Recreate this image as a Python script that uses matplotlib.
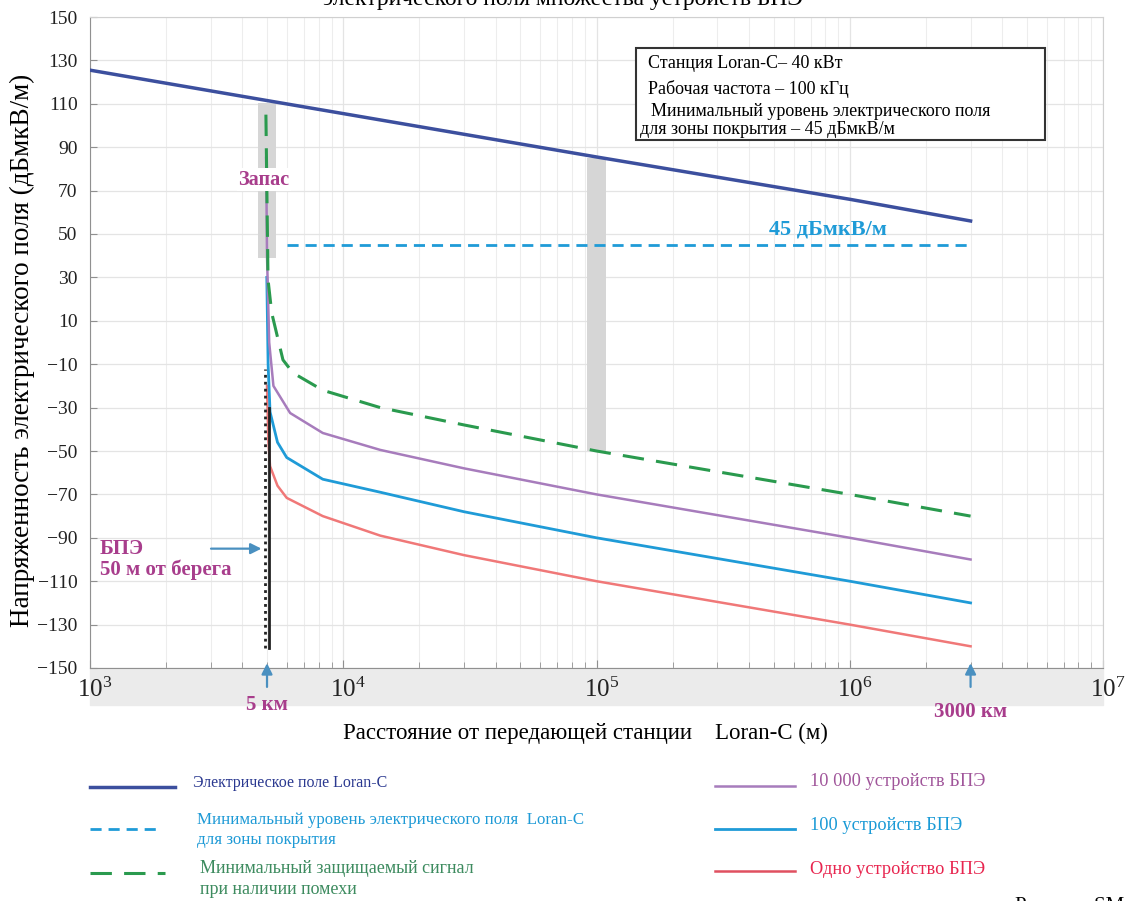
import matplotlib
matplotlib.use("Agg")
import matplotlib.pyplot as plt
from matplotlib.lines import Line2D
from matplotlib.patches import Rectangle
import matplotlib.transforms as mtransforms
import numpy as np

plt.rcParams['font.family'] = ['Liberation Serif', 'DejaVu Serif']
plt.rcParams['mathtext.fontset'] = 'stix'

# --- data (distance in m, field in dBuV/m) ---
loran_x = [1e3, 5e3, 1e5, 1e6, 3e6]
loran_y = [125.5, 111.5, 85.5, 66, 56]

min_x = [6000, 3e6]
min_y = [45, 45]

prot_x = [4950, 5000, 5046, 5219, 5780, 6330, 8300, 1.4e4, 3e4, 1e5, 1e6, 3e6]
prot_y = [105, 65, 29, 13.6, -8, -14, -22, -30, -38, -50, -70, -80]

dev10000_x = [4960, 5000, 5100, 5300, 6170, 8300, 1.4e4, 3e4, 1e5, 1e6, 3e6]
dev10000_y = [85, 40, 0, -20, -32.5, -41.7, -49.5, -58, -70, -90, -100]

dev100_x = [4990, 5050, 5140, 5500, 5980, 8300, 1.4e4, 3e4, 1e5, 1e6, 3e6]
dev100_y = [30, -10, -32, -46, -53, -63, -69, -78, -90, -110, -120]

dev1_x = [5000, 5060, 5140, 5500, 5980, 8300, 1.4e4, 3e4, 1e5, 1e6, 3e6]
dev1_y = [-20, -45, -57, -66, -71.6, -80, -89, -98, -110, -130, -140]

# margin bars (x range, y range)
margin_x = [(4600, 5420), (91700, 109000)]
margin_y = [(39, 110.5), (-50, 85)]

bpe_x = 5000
bpe_solid = (-141, -30)
bpe_dotted = (-141, -12)
bpe_arrow_y = -95

xlim = (1e3, 1e7)
ylim = (-150, 150)
yticks = list(range(-150, 151, 20))

W, H = 1126, 901
def fx(px):
    return px / W
def fy(py):
    return 1 - py / H

fig = plt.figure(figsize=(W / 100, H / 100), dpi=100)
ax = fig.add_axes([fx(90), fy(668), fx(1103) - fx(90), fy(17) - fy(668)])

ax.set_xscale('log')
ax.set_xlim(*xlim)
ax.set_ylim(*ylim)
ax.set_yticks(yticks)
ax.grid(True, which='major', color='#e4e4e4', lw=0.9)
ax.grid(True, which='minor', axis='x', color='#ededed', lw=0.8)
ax.set_axisbelow(True)

for s in ['top', 'right']:
    ax.spines[s].set_color('#d0d0d0')
for s in ['left', 'bottom']:
    ax.spines[s].set_color('#909090')
ax.tick_params(axis='y', direction='in', length=5, color='#909090', labelsize=14,
               pad=9, labelcolor='#222222')
ax.tick_params(axis='x', which='both', direction='in', color='#909090', labelsize=18,
               pad=7, labelcolor='#222222')
ax.tick_params(axis='x', which='minor', length=4)
ax.tick_params(axis='x', which='major', length=6)

# x tick labels sit a little to the right of their ticks in the original
shift = mtransforms.ScaledTranslation(5 / 100, 0, fig.dpi_scale_trans)
for lab in ax.get_xticklabels():
    lab.set_transform(lab.get_transform() + shift)

# grey band behind x tick labels
ax.add_patch(Rectangle((0, -0.057), 1, 0.057, transform=ax.transAxes,
                       color='#ebebeb', clip_on=False, zorder=0))

# margin bars
for (x0, x1), (y0, y1) in zip(margin_x, margin_y):
    ax.fill_between([x0, x1], y0, y1, color='#d6d6d6', lw=0, zorder=1)

ax.plot(loran_x, loran_y, color='#3c4f9e', lw=2.5, zorder=3)
ax.plot(min_x, min_y, color='#1f9bd7', lw=2, ls=(0, (4, 2.5)), zorder=3)
ax.plot(dev1_x, dev1_y, color='#f07878', lw=1.8, zorder=3)
ax.plot(dev100_x, dev100_y, color='#1f9bd7', lw=2, zorder=3)
ax.plot(dev10000_x, dev10000_y, color='#a77cbc', lw=1.8, zorder=3)
ax.plot(prot_x, prot_y, color='#2a9a4e', lw=2.2, ls=(0, (7, 4)), zorder=4)

ax.plot([bpe_x * 1.02, bpe_x * 1.02], bpe_solid, color='#222222', lw=2, zorder=5)
ax.plot([bpe_x * 0.985, bpe_x * 0.985], bpe_dotted, color='#222222', lw=2, ls=(0, (1, 1.5)), zorder=5)

mag = '#a83d8c'
arrow_c = '#4a90c0'
ax.annotate('', xy=(bpe_x * 0.975, bpe_arrow_y), xytext=(2.93e3, bpe_arrow_y),
            arrowprops=dict(arrowstyle='-|>', color=arrow_c, lw=1.6, mutation_scale=16),
            zorder=6)
ax.text(1.095e3, -100, 'БПЭ\n50 м от берега', color=mag, fontsize=15, fontweight='bold',
        va='center', ha='left', linespacing=1.0)
ax.text(bpe_x * 0.97, 75, 'Запас', color=mag, fontsize=14.5, fontweight='bold',
        ha='center', va='center', zorder=6,
        bbox=dict(facecolor='white', edgecolor='none', pad=1))
ax.text(8.2e5, 52, '45 дБмкВ/м', color='#1f9bd7', fontsize=16, fontweight='bold',
        ha='center', va='center')

# up arrows under the axis
for xa, lab, ly in [(bpe_x, '5 км', -167), (3e6, '3000 км', -170.5)]:
    ax.annotate('', xy=(xa, -146.5), xytext=(xa, -160), xycoords='data',
                arrowprops=dict(arrowstyle='-|>', color=arrow_c, lw=1.6, mutation_scale=16),
                annotation_clip=False, zorder=6)
    ax.text(xa, ly, lab, color=mag, fontsize=15, fontweight='bold',
            ha='center', va='center', clip_on=False)

# info box
ax.add_patch(Rectangle((fx(636), fy(140)), fx(1045) - fx(636), fy(48) - fy(140),
                       transform=fig.transFigure, facecolor='white', edgecolor='#333333',
                       lw=1.5, zorder=7, clip_on=False))
info = [(648, 64, 'Станция Loran-C– 40 кВт'), (648, 89, 'Рабочая частота – 100 кГц'),
        (651, 111, 'Минимальный уровень электрического поля'),
        (640, 130, 'для зоны покрытия – 45 дБмкВ/м')]
for px, py, t in info:
    fig.text(fx(px), fy(py), t, fontsize=13, va='center', ha='left', zorder=8)

fig.text(fx(22), fy(350), 'Напряженность электрического поля (дБмкВ/м)', fontsize=19.5,
         rotation=90, ha='center', va='center')
fig.text(fx(585), fy(733), 'Расстояние от передающей станции    Loran-C (м)',
         fontsize=16.5, ha='center', va='center')

fig.text(0.5, 1.0, 'электрического поля множества устройств БПЭ', fontsize=17,
         ha='center', va='center')
fig.text(fx(1015), fy(906), 'Рисунок SM.2', fontsize=15, ha='left', va='center')

# legend drawn by hand
legend_rows = [
    (90, 175, 787, '#3c4f9e', '-', 2.5, 193, 783, 'Электрическое поле Loran-C', '#2b3990', 11.5),
    (90, 162, 829, '#1f9bd7', (0, (4, 2.5)), 2, 197, 830,
     'Минимальный уровень электрического поля  Loran-C\nдля зоны покрытия', '#1e9ad6', 12.2),
    (90, 165, 873, '#2a9a4e', (0, (7, 4)), 2.2, 200, 879,
     'Минимальный защищаемый сигнал\nпри наличии помехи', '#3d8b5f', 13),
    (715, 795, 786, '#a77cbc', '-', 1.8, 810, 781, '10 000 устройств БПЭ', '#a0559a', 13.2),
    (715, 795, 829, '#1f9bd7', '-', 2, 810, 825, '100 устройств БПЭ', '#1a9ad6', 13.2),
    (715, 795, 871, '#e05060', '-', 1.8, 810, 869, 'Одно устройство БПЭ', '#e8254f', 13.2),
]
for x0, x1, yl, lc, ls, lw, tx, ty, txt, tc, fs in legend_rows:
    fig.add_artist(Line2D([fx(x0), fx(x1)], [fy(yl), fy(yl)], color=lc, ls=ls, lw=lw))
    fig.text(fx(tx), fy(ty), txt, color=tc, fontsize=fs, ha='left', va='center',
             linespacing=1.25)

fig.savefig('out.png', dpi=100)
